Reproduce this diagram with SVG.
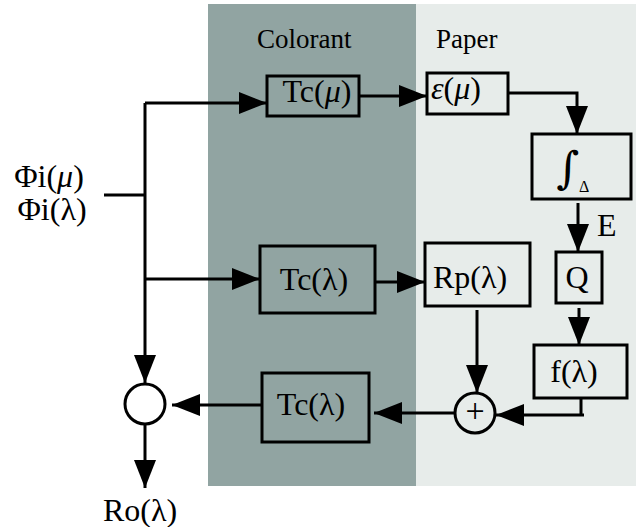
<svg xmlns="http://www.w3.org/2000/svg" width="636" height="527" viewBox="0 0 636 527">
<style>
  .box{fill:none;stroke:#000;stroke-width:3}
  .ln{fill:none;stroke:#000;stroke-width:3}
  .t{font-family:"Liberation Serif","Times New Roman",serif;font-size:32px;fill:#000}
  .h{font-family:"Liberation Serif","Times New Roman",serif;font-size:27px;fill:#000}
  .m{text-anchor:middle}
  .it{font-style:italic}
</style>
<defs>
  <marker id="ah" viewBox="0 0 28 22" refX="28" refY="11" markerWidth="28" markerHeight="22" markerUnits="userSpaceOnUse" orient="auto">
    <path d="M0,0 L28,11 L0,22 z" fill="#000"/>
  </marker>
</defs>
<rect width="636" height="527" fill="#fff"/>
<g id="panels">
  <rect x="208" y="4" width="208" height="482" fill="#91a4a2"/>
  <rect x="416" y="4" width="220" height="482" fill="#e7ecea"/>
  <text class="h" x="257" y="48">Colorant</text>
  <text class="h" x="436" y="48">Paper</text>
</g>
<g id="input">
  <text class="t m" x="49" y="187">Φi(<tspan class="it">μ</tspan>)</text>
  <text class="t m" x="52" y="220">Φi(λ)</text>
</g>
<g id="tc_mu">
  <rect class="box" x="267" y="76" width="92" height="40"/>
  <text class="t m" x="317" y="102">Tc(<tspan class="it">μ</tspan>)</text>
</g>
<g id="eps_mu">
  <rect class="box" x="427" y="73" width="81" height="41"/>
  <text class="t" x="431" y="99"><tspan class="it">ε</tspan>(<tspan class="it">μ</tspan>)</text>
</g>
<g id="integral">
  <rect class="box" x="532" y="134" width="99" height="65"/>
  <text x="568" y="183" text-anchor="middle" style="font-family:'DejaVu Serif',serif;font-size:44px;fill:#000">∫</text>
  <text class="t" x="579" y="192" style="font-size:16px">Δ</text>
</g>
<g id="label_E">
  <text class="t" x="597" y="236">E</text>
</g>
<g id="Q">
  <rect class="box" x="556" y="252" width="46" height="51"/>
  <text class="t m" x="577" y="288">Q</text>
</g>
<g id="f_lambda">
  <rect class="box" x="534" y="345" width="93" height="53"/>
  <text class="t m" x="574" y="382">f(λ)</text>
</g>
<g id="tc_lambda_top">
  <rect class="box" x="260" y="246" width="115" height="67"/>
  <text class="t m" x="314" y="290">Tc(λ)</text>
</g>
<g id="rp_lambda">
  <rect class="box" x="425" y="243" width="105" height="63"/>
  <text class="t m" x="470" y="288">Rp(λ)</text>
</g>
<g id="sum">
  <circle cx="475" cy="413" r="20" fill="none" stroke="#000" stroke-width="3"/>
  <text class="t m" x="475" y="422" style="font-size:34px">+</text>
</g>
<g id="tc_lambda_bottom">
  <rect class="box" x="262" y="373" width="107" height="69"/>
  <text class="t m" x="311" y="415">Tc(λ)</text>
</g>
<g id="product">
  <circle cx="145" cy="404" r="20" fill="#fff" stroke="#000" stroke-width="3"/>
</g>
<g id="output">
  <text class="t m" x="140" y="521">Ro(λ)</text>
</g>
<g id="connectors">
  <path class="ln" d="M104,195 H145"/>
  <path class="ln" d="M145,103 V383" marker-end="url(#ah)"/>
  <path class="ln" d="M145,103 H267" marker-end="url(#ah)"/>
  <path class="ln" d="M145,279 H260" marker-end="url(#ah)"/>
  <path class="ln" d="M359,96 H427" marker-end="url(#ah)"/>
  <path class="ln" d="M508,93 H577 V134" marker-end="url(#ah)"/>
  <path class="ln" d="M578,203 V252" marker-end="url(#ah)"/>
  <path class="ln" d="M579,308 V345" marker-end="url(#ah)"/>
  <path class="ln" d="M375,282 H425" marker-end="url(#ah)"/>
  <path class="ln" d="M477,310 V393" marker-end="url(#ah)"/>
  <path class="ln" d="M581,398 V415 M584,415 H496" marker-end="url(#ah)"/>
  <path class="ln" d="M455,413 H374" marker-end="url(#ah)"/>
  <path class="ln" d="M262,405 H172" marker-end="url(#ah)"/>
  <path class="ln" d="M145,424 V488" marker-end="url(#ah)"/>
</g>
</svg>
